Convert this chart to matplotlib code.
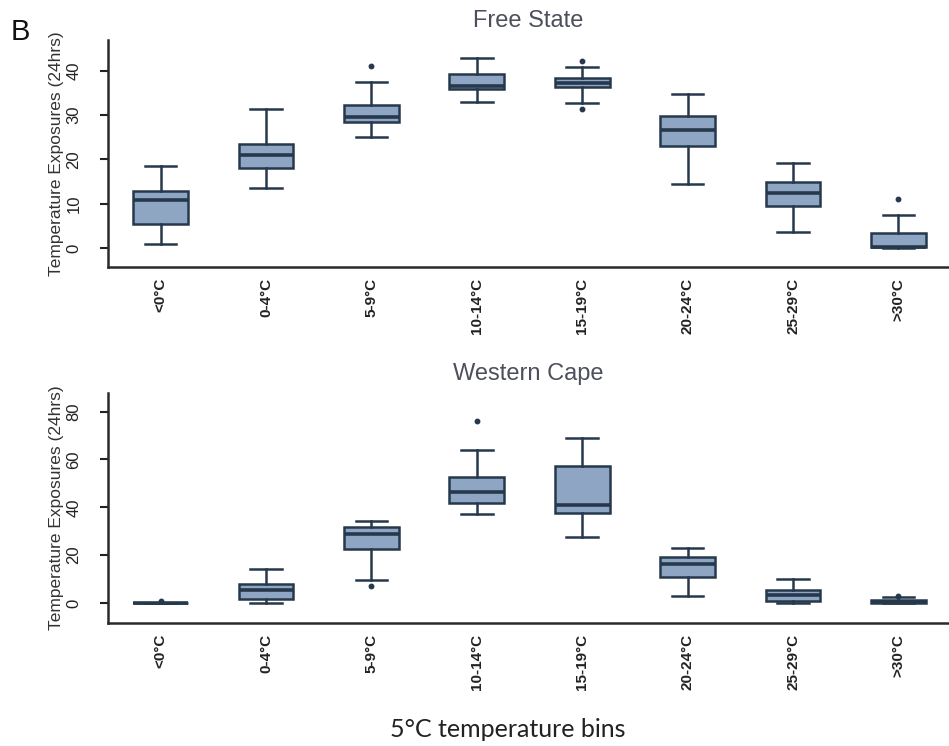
import matplotlib
matplotlib.use("Agg")
import matplotlib.pyplot as plt
from matplotlib import font_manager

# Temperature bins shared by both provinces
bins = ["<0°C", "0-4°C", "5-9°C", "10-14°C", "15-19°C", "20-24°C", "25-29°C", ">30°C"]

# Free State: five-number summaries (hours) per bin
fs_whislo = [0.9, 13.5, 25.0, 32.9, 32.8, 14.4, 3.5, 0.0]
fs_q1     = [5.4, 18.0, 28.4, 36.0, 36.4, 23.0, 9.5, 0.15]
fs_med    = [10.8, 21.0, 29.5, 36.6, 37.2, 26.6, 12.5, 0.3]
fs_q3     = [12.9, 23.4, 32.3, 39.4, 38.3, 29.9, 14.8, 3.3]
fs_whishi = [18.6, 31.5, 37.5, 43.0, 40.9, 34.9, 19.3, 7.4]
fs_fliers = [[], [], [41.1], [], [42.2, 31.3], [], [], [11.0]]

# Western Cape: five-number summaries (hours) per bin
wc_whislo = [0.0, 0.0, 9.5, 37.2, 27.7, 2.8, 0.0, 0.0]
wc_q1     = [0.0, 1.8, 22.4, 41.9, 37.5, 10.9, 0.8, 0.0]
wc_med    = [0.0, 5.3, 28.8, 46.3, 41.0, 16.1, 3.2, 0.3]
wc_q3     = [0.0, 8.1, 31.6, 52.8, 57.4, 19.3, 5.6, 1.1]
wc_whishi = [0.0, 14.1, 34.4, 64.0, 68.9, 23.1, 10.2, 2.5]
wc_fliers = [[0.8], [], [7.0], [75.9], [], [], [], [3.0]]

fs_ticks = [0, 10, 20, 30, 40]
wc_ticks = [0, 20, 40, 60, 80]

installed = {f.name for f in font_manager.fontManager.ttflist}
narrow = "Liberation Sans Narrow" if "Liberation Sans Narrow" in installed else "Liberation Sans"

FACE = "#8ea6c3"
EDGE = "#26384c"
TITLE_C = "#4d4f5c"


def stats(lo, q1, med, q3, hi, fl):
    return [dict(whislo=a, q1=b, med=c, q3=d, whishi=e, fliers=f, label=lab)
            for a, b, c, d, e, f, lab in zip(lo, q1, med, q3, hi, fl, bins)]


def panel(ax, st, ticks, ylim, title):
    ax.bxp(st, positions=range(1, len(bins) + 1), widths=0.52,
           patch_artist=True, showfliers=True,
           boxprops=dict(facecolor=FACE, edgecolor=EDGE, linewidth=1.8),
           medianprops=dict(color=EDGE, linewidth=2.6),
           whiskerprops=dict(color=EDGE, linewidth=1.8),
           capprops=dict(color=EDGE, linewidth=1.8),
           capwidths=0.3,
           flierprops=dict(marker="o", markersize=3.2, markerfacecolor=EDGE,
                           markeredgecolor=EDGE))
    ax.set_xlim(0.5, 8.48)
    ax.set_ylim(*ylim)
    ax.set_yticks(ticks)
    ax.set_yticklabels([str(t) for t in ticks], rotation=90, va="center",
                       family=[narrow, "DejaVu Sans"], fontsize=12)
    ax.set_xticks(range(1, len(bins) + 1))
    ax.set_xticklabels(bins, rotation=90, family=[narrow, "DejaVu Sans"],
                       fontsize=11, fontweight="bold", color="#222222")
    ax.tick_params(axis="x", length=0, pad=8)
    ax.tick_params(axis="y", length=6, width=1.5, color="#222222", pad=13,
                   labelcolor="#222222")
    for s in ("top", "right"):
        ax.spines[s].set_visible(False)
    for s in ("left", "bottom"):
        ax.spines[s].set_linewidth(1.8)
        ax.spines[s].set_color("#2a2a2a")
    ax.set_title(title, fontsize=17, color=TITLE_C, family=["Liberation Sans", "DejaVu Sans"],
                 pad=9)
    ax.set_ylabel("Temperature Exposures (24hrs)", family=[narrow, "DejaVu Sans"],
                  fontsize=12.5, color="#333333", labelpad=2)


fig = plt.figure(figsize=(9.49, 7.46), dpi=100)
ax1 = fig.add_axes([0.1138, 0.6421, 0.8862, 0.3043])
ax2 = fig.add_axes([0.1138, 0.1649, 0.8862, 0.3083])

panel(ax1, stats(fs_whislo, fs_q1, fs_med, fs_q3, fs_whishi, fs_fliers),
      fs_ticks, (-4.3, 47.0), "Free State")
panel(ax2, stats(wc_whislo, wc_q1, wc_med, wc_q3, wc_whishi, wc_fliers),
      wc_ticks, (-8.4, 87.8), "Western Cape")

fig.text(0.011, 0.957, "B", fontsize=21, family=["Liberation Sans", "DejaVu Sans"],
         color="#111111", ha="left", va="center")
fig.text(0.535, 0.022, "5°C temperature bins", fontsize=18,
         family=["Lato", "DejaVu Sans"], color="#222222", ha="center", va="center")

fig.savefig("out.png", dpi=100)
